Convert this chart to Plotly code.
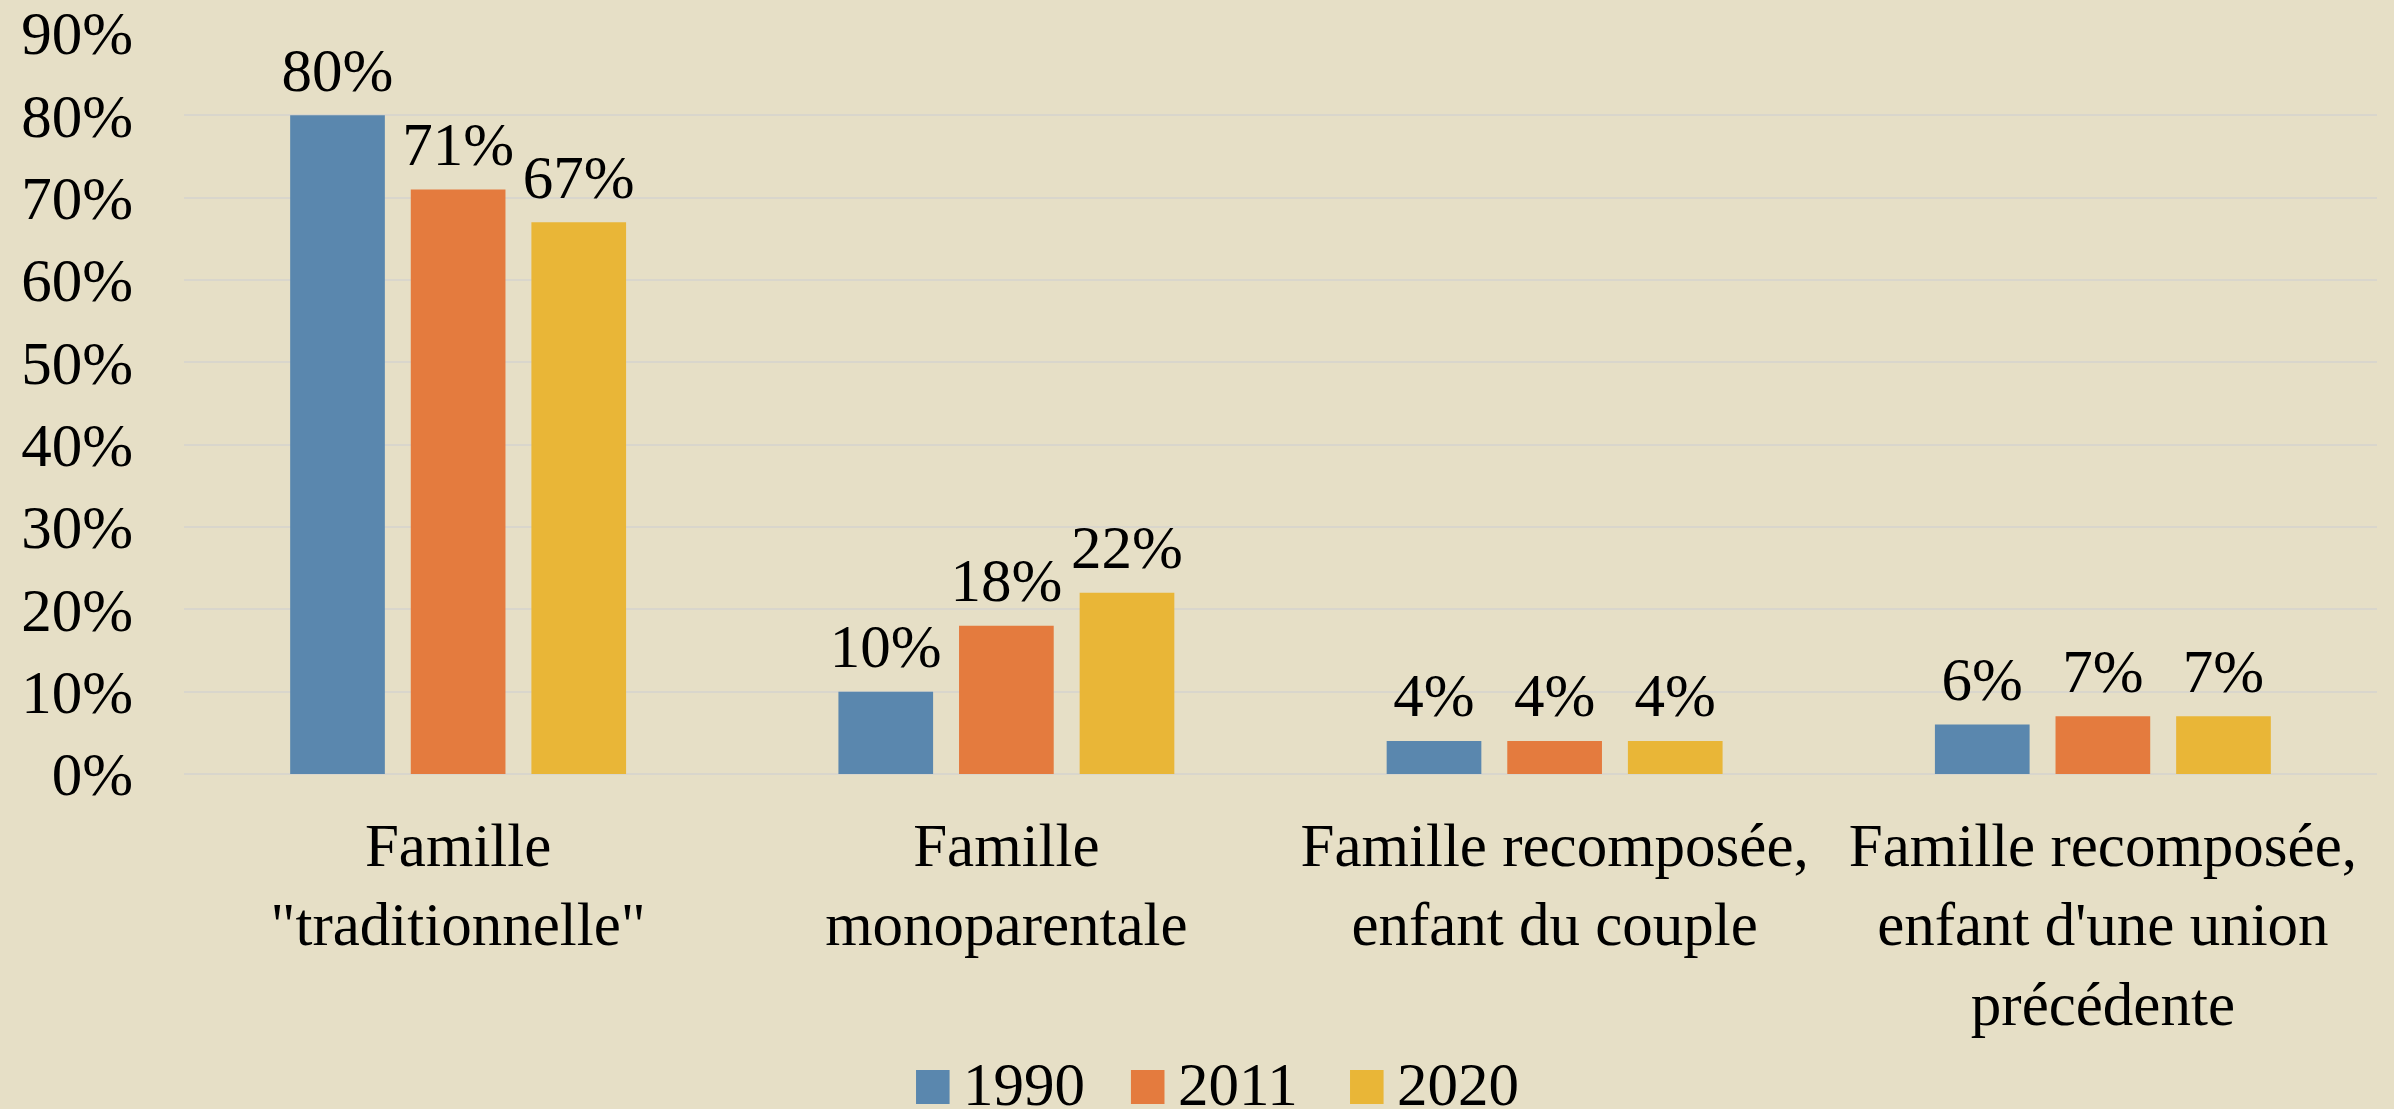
import plotly.graph_objects as go

categories = [
    'Famille<br>"traditionnelle"',
    "Famille<br>monoparentale",
    "Famille recomposée,<br>enfant du couple",
    "Famille recomposée,<br>enfant d'une union<br>précédente",
]
series_names = ["1990", "2011", "2020"]
values_1990 = [0.80, 0.10, 0.04, 0.06]
values_2011 = [0.71, 0.18, 0.04, 0.07]
values_2020 = [0.67, 0.22, 0.04, 0.07]
colors = ["#5A87AE", "#E47B3E", "#E9B637"]
y_ticks = [0, 0.1, 0.2, 0.3, 0.4, 0.5, 0.6, 0.7, 0.8, 0.9]

FONT = "Liberation Serif"
FS = 61
BG = "#E6DFC6"

fig = go.Figure()
for name, vals, col in zip(series_names, [values_1990, values_2011, values_2020], colors):
    fig.add_trace(go.Bar(
        x=categories, y=vals, name=name,
        marker=dict(color=col, line=dict(width=0)),
        texttemplate="<sub>\u00a0</sub>%{y:.0%}<sub>\u00a0</sub>", textposition="outside",
        textfont=dict(family=FONT, size=FS, color="black"),
        constraintext="none",
        cliponaxis=False, showlegend=False,
    ))

# legend built from series names/colours
leg_x = [0.3338, 0.4318, 0.5317]
for name, col, lx in zip(series_names, colors, leg_x):
    fig.add_shape(type="rect", xref="paper", yref="paper",
                  x0=lx, x1=lx + 0.0153, y0=-0.4453, y1=-0.3995,
                  fillcolor=col, line=dict(width=0), layer="above")
    fig.add_annotation(xref="paper", yref="paper", x=lx + 0.0205, y=-0.4195,
                       text=name, showarrow=False, xanchor="left", yanchor="middle",
                       font=dict(family=FONT, size=FS, color="black"))

fig.update_layout(
    width=2394, height=1109,
    paper_bgcolor=BG, plot_bgcolor=BG,
    margin=dict(l=184, r=17, t=33, b=335, autoexpand=False),
    barmode="group", bargap=0.34, bargroupgap=0.215,
    font=dict(family=FONT, size=FS, color="black"),
    showlegend=False,
)
fig.update_xaxes(showgrid=False, showline=False, zeroline=False, automargin=False,
                 tickfont=dict(family=FONT, size=FS, color="black"),
                 ticks="", ticklabelstandoff=30)
fig.update_yaxes(range=[0, 0.9], tickvals=y_ticks, tickformat=".0%", automargin=False,
                 showgrid=True, gridcolor="#D9D6CC", gridwidth=2,
                 zeroline=True, zerolinecolor="#D9D6CC", zerolinewidth=2,
                 showline=False, ticks="",
                 tickfont=dict(family=FONT, size=FS, color="black"),
                 ticklabelstandoff=50)

fig.write_html("out.html", config={"displayModeBar": False},
               post_script="document.body.style.margin='0';document.body.style.overflow='hidden';")
